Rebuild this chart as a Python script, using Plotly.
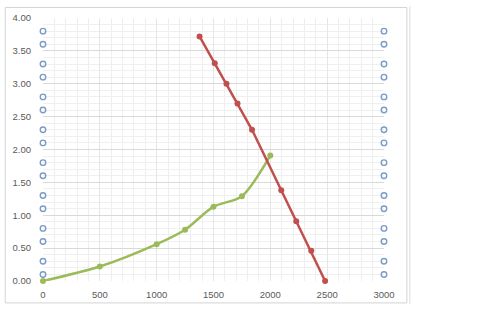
import plotly.graph_objects as go

# Data
green_x = [0, 500, 1000, 1250, 1500, 1750, 2000]
green_y = [0.0, 0.22, 0.56, 0.78, 1.13, 1.29, 1.91]

red_x = [1377, 1511, 1614, 1711, 1839, 2096, 2228, 2360, 2482]
red_y = [3.72, 3.31, 3.00, 2.70, 2.30, 1.38, 0.91, 0.46, 0.00]

circle_y = [3.8, 3.6, 3.3, 3.1, 2.8, 2.6, 2.3, 2.1, 1.8, 1.6, 1.3, 1.1, 0.8, 0.6, 0.3, 0.1]
circle_x_left = [0] * len(circle_y)
circle_x_right = [3000] * len(circle_y)

x_ticks = [0, 500, 1000, 1500, 2000, 2500, 3000]
y_ticks = [0, 0.5, 1.0, 1.5, 2.0, 2.5, 3.0, 3.5, 4.0]
y_labels = ["%.2f" % v for v in y_ticks]

fig = go.Figure()

circle_marker = dict(symbol="circle-open", size=5.5, color="#7a9cc6", line=dict(width=1.4, color="#7a9cc6"))
fig.add_trace(go.Scatter(x=circle_x_left, y=circle_y, mode="markers", marker=circle_marker, cliponaxis=False))
fig.add_trace(go.Scatter(x=circle_x_right, y=circle_y, mode="markers", marker=circle_marker, cliponaxis=False))

fig.add_trace(go.Scatter(
    x=green_x, y=green_y, mode="lines+markers",
    line=dict(color="#9bbb59", width=2.5, shape="spline", smoothing=0.8),
    marker=dict(size=6, color="#9bbb59"), cliponaxis=False,
))
fig.add_trace(go.Scatter(
    x=red_x, y=red_y, mode="lines+markers",
    line=dict(color="#c0504d", width=2.5),
    marker=dict(size=6, color="#c0504d"), cliponaxis=False,
))

font = dict(family="Liberation Sans, Arial, sans-serif", size=9.5, color="#595959")

fig.update_xaxes(
    range=[0, 3000], tickvals=x_ticks, ticktext=[str(v) for v in x_ticks],
    showgrid=True, gridcolor="#e6e6e6", gridwidth=1,
    minor=dict(dtick=100, showgrid=True, gridcolor="#eeeeee", gridwidth=1),
    zeroline=False, showline=False, ticks="", tickfont=font, ticklabelstandoff=6,
)
fig.update_yaxes(
    range=[0, 4], tickvals=y_ticks, ticktext=y_labels,
    showgrid=True, gridcolor="#d9d9d9", gridwidth=1,
    minor=dict(dtick=0.1, showgrid=True, gridcolor="#f0f0f0", gridwidth=1),
    zeroline=False, showline=False, ticks="", tickfont=font, ticklabelstandoff=11,
)

# chart frame (paper coords; plot area is 343 x 276 px at (41,12))
def px_x(p):
    return (p - 41) / 343.0

def px_y(p):
    return (288 - p) / 276.0

fig.add_shape(type="rect", xref="paper", yref="paper",
              x0=px_x(3), x1=px_x(407), y0=px_y(311), y1=px_y(1),
              line=dict(color="#d4d4d4", width=1), layer="below")
fig.add_shape(type="line", xref="paper", yref="paper",
              x0=px_x(410), x1=px_x(410), y0=px_y(312), y1=px_y(0),
              line=dict(color="#dcdcdc", width=1), layer="below")

fig.update_layout(
    width=500, height=312,
    margin=dict(l=41, r=116, t=12, b=24),
    paper_bgcolor="white", plot_bgcolor="white",
    showlegend=False,
)

fig.write_html("out.html")
